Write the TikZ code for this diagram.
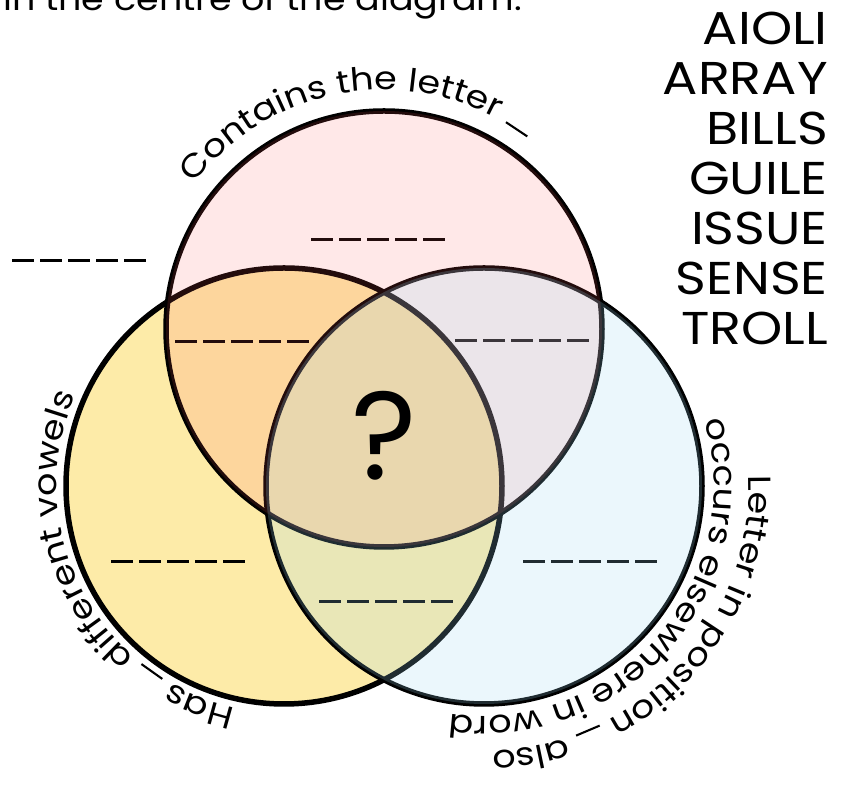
\documentclass[tikz,border=0pt]{standalone}
\usepackage{fontspec}
\setmainfont{Poppins}
\newfontfamily\widefont[FakeStretch=1.14]{Poppins}
\usetikzlibrary{decorations.text,calc}
\definecolor{yelfill}{RGB}{253,235,168}
\definecolor{pinkov}{RGB}{255,88,88}
\definecolor{blueov}{RGB}{157,220,245}
\newcommand\lblfont{\widefont\fontsize{32}{32}\selectfont}
\newcommand\blankbar{\rule[-0.01em]{0.8em}{0.065em}}
\begin{document}
\begin{tikzpicture}[x=1pt,y=1pt,
  ring/.style={draw=black, line width=5.5pt},
  blank/.style={draw=black, line width=3pt, dash pattern=on 22pt off 6pt},
  word/.style={anchor=base east, inner sep=0pt, font=\widefont\fontsize{46}{46}\selectfont},
  curved/.style={decorate, decoration={text along path, text align=center, text={|\lblfont|#1}}}
]
\useasboundingbox (0,0) rectangle (844,799);
\clip (0,0) rectangle (844,799);
\fill[white] (0,0) rectangle (844,799);
\coordinate (P) at (384,470);
\coordinate (Y) at (284,313);
\coordinate (B) at (484,313);
% base fill
\fill[yelfill] (Y) circle[radius=218];
% outlines
\draw[ring] (Y) circle[radius=218];
\draw[ring] (P) circle[radius=218];
\draw[ring] (B) circle[radius=218];
% blanks
\coordinate (b1) at (311,559);
\coordinate (b2) at (12,538);
\coordinate (b3) at (175,457);
\coordinate (b4) at (455,458);
\coordinate (b5) at (111,237);
\coordinate (b6) at (523,237);
\coordinate (b7) at (319,197);
\foreach \b in {b1,b2,b3,b4,b5,b6,b7}
  \draw[blank] (\b) -- ++(134,0);
% translucent overlays
\fill[pinkov, fill opacity=0.137] (P) circle[radius=218];
\fill[blueov, fill opacity=0.204] (B) circle[radius=218];
% centre mark
\node[anchor=base, inner sep=0pt, font=\fontsize{125}{125}\selectfont] (q) at (384,319) {?};
% intro text (cut at the top)
\node[anchor=base west, inner sep=0pt, font=\widefont\fontsize{32}{32}\selectfont] (intro) at (3,788) {in the centre of the diagram.};
% word list
\node[word] (w1) at (828,754) {AIOLI};
\node[word] (w2) at (828,704) {ARRAY};
\node[word] (w3) at (828,654) {BILLS};
\node[word] (w4) at (828,604) {GUILE};
\node[word] (w5) at (828,554) {ISSUE};
\node[word] (w6) at (828,504) {SENSE};
\node[word] (w7) at (828,454) {TROLL};
% curved labels
\path[curved={Contains the letter {\blankbar}}] ($(P)+(178:239)$) arc[start angle=178, end angle=18, radius=239];
\path[curved={Has {\blankbar} different vowels}] ($(Y)+(293:227)$) arc[start angle=293, end angle=121, radius=227];
\path[curved={Letter in position {\blankbar} also}] ($(B)+(44:265)$) arc[start angle=44, end angle=-130, radius=265];
\path[curved={occurs elsewhere in word}] ($(B)+(44:230)$) arc[start angle=44, end angle=-126, radius=230];
\end{tikzpicture}
\end{document}
